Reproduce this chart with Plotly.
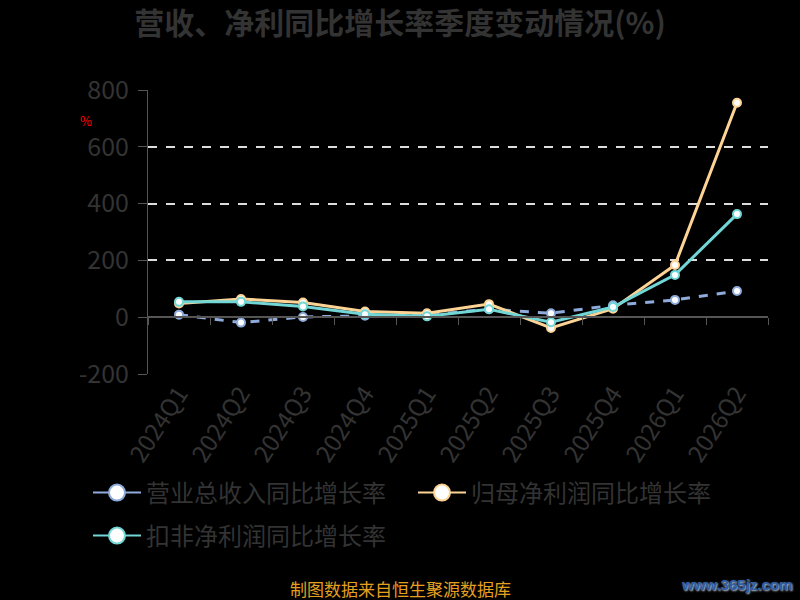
import plotly.graph_objects as go

# data
quarters = ["2024Q1", "2024Q2", "2024Q3", "2024Q4", "2025Q1",
            "2025Q2", "2025Q3", "2025Q4", "2026Q1", "2026Q2"]
revenue_yoy = [9, -19, 1, 5, 8, 28, 14, 42, 61, 92]
parent_np_yoy = [48, 64, 52, 20, 14, 46, -38, 30, 184, 755]
deducted_np_yoy = [54, 54, 38, 10, 3, 28, -18, 36, 149, 363]
y_ticks = [-200, 0, 200, 400, 600, 800]
y_tick_text = ["-200", "0", "200", "400", "600", "800"]

names = ["营业总收入同比增长率", "归母净利润同比增长率", "扣非净利润同比增长率"]
colors = ["#8fabdb", "#fdd495", "#72d6d6"]
dashes = ["dash", "solid", "solid"]
legend_ids = ["legend", "legend", "legend2"]
series = [revenue_yoy, parent_np_yoy, deducted_np_yoy]

FONT = "Noto Sans CJK SC"
GREY = "#333333"

# plot area in pixels
L, R, T, B = 148, 32, 90, 226
PW, PH = 800 - L - R, 600 - T - B


def px(x, y):
    # pixel position -> paper coords
    return (x - L) / PW, (600 - B - y) / PH


fig = go.Figure()

# real lines
for name, vals, col, dash in zip(names, series, colors, dashes):
    fig.add_trace(go.Scatter(
        x=quarters, y=vals, name=name, mode="lines+markers",
        line=dict(color=col, width=3, dash=dash),
        marker=dict(size=8, color="white", line=dict(color=col, width=2)),
        showlegend=False,
    ))

# legend only entries (bigger symbol)
for name, col, lg in zip(names, colors, legend_ids):
    fig.add_trace(go.Scatter(
        x=[None], y=[None], name=name, mode="lines+markers", legend=lg,
        line=dict(color=col, width=2),
        marker=dict(size=22, color="white", line=dict(color=col, width=2)),
    ))

# invisible trace on the zero-crossing axis so it gets its categories
fig.add_trace(go.Scatter(x=quarters, y=[0] * len(quarters), xaxis="x2",
                         mode="lines", line=dict(width=0), showlegend=False,
                         hoverinfo="skip"))

pct_x, pct_y = px(86, 120)
src_x, src_y = px(400, 588)
wm_x, wm_y = px(736, 584)
lg1_x, lg1_y = px(88, 493)
lg2_x, lg2_y = px(88, 536)

legend_style = dict(orientation="h", xanchor="left", yanchor="middle",
                    font=dict(size=24, color=GREY), bgcolor="rgba(0,0,0,0)",
                    itemwidth=48, entrywidth=262)

fig.update_layout(
    width=800, height=600,
    paper_bgcolor="black", plot_bgcolor="black",
    margin=dict(l=L, r=R, t=T, b=B),
    font=dict(family=FONT, color=GREY),
    title=dict(text="<b>营收、净利同比增长率季度变动情况(%)</b>",
               x=0.5, xanchor="center", y=1 - 23 / 600, yanchor="middle",
               font=dict(size=30, color=GREY, family=FONT)),
    xaxis=dict(type="category", categoryarray=quarters, range=[-0.5, 9.5],
               showline=False, showgrid=False, ticks="",
               tickangle=-57, tickfont=dict(size=24, color=GREY)),
    xaxis2=dict(type="category", categoryarray=quarters, range=[-0.5, 9.5],
                overlaying="x", anchor="free", position=0.2, side="bottom",
                showline=True, linecolor="#555555", linewidth=2,
                ticks="outside", tickson="boundaries", ticklen=7,
                tickcolor="#555555", showticklabels=False, showgrid=False),
    yaxis=dict(range=[-200, 800], tickvals=y_ticks, ticktext=y_tick_text,
               showgrid=True, gridcolor="#dddddd", griddash="dash", gridwidth=2,
               zeroline=False, showline=True, linecolor="#555555", linewidth=1,
               ticks="outside", ticklen=9, tickcolor="#555555",
               ticklabelstandoff=4,
               tickfont=dict(size=25, color=GREY)),
    legend=dict(x=lg1_x, y=lg1_y, **legend_style),
    legend2=dict(x=lg2_x, y=lg2_y, **legend_style),
    annotations=[
        dict(text="%", x=pct_x, y=pct_y, xref="paper", yref="paper",
             xanchor="center", yanchor="middle", showarrow=False,
             font=dict(size=13, color="red")),
        dict(text="制图数据来自恒生聚源数据库", x=src_x, y=src_y, xref="paper",
             yref="paper", xanchor="center", yanchor="middle", showarrow=False,
             font=dict(size=17, color="#e5a020")),
        dict(text="<b>www.365jz.com</b>", x=wm_x, y=wm_y, xref="paper",
             yref="paper", xanchor="center", yanchor="middle", showarrow=False,
             font=dict(size=15, color="#2f5ea6", family="Liberation Sans",
                       shadow="1px 1px 2px #c8d8f0")),
    ],
)

fig.write_html("out.html", config={"displayModeBar": False},
               post_script="document.body.style.margin='0';")
